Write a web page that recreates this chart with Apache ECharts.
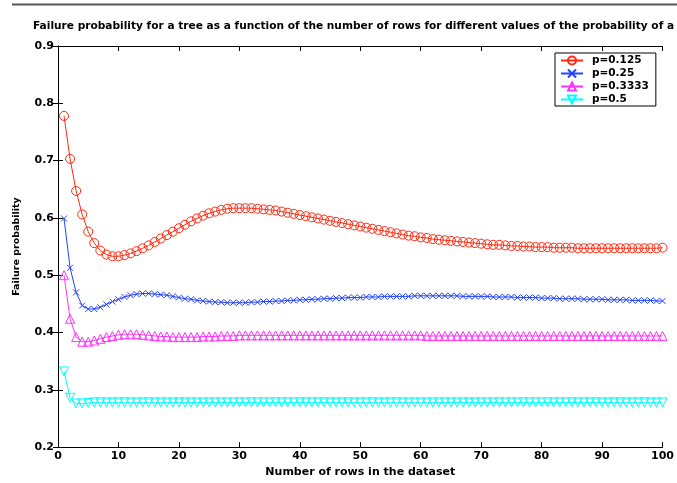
<!DOCTYPE html>
<html>
<head>
<meta charset="utf-8">
<script src="https://cdn.jsdelivr.net/npm/echarts@6/dist/echarts.min.js"></script>
<style>html,body{margin:0;padding:0;background:#fff;}#c{width:677px;height:483px;}</style>
</head>
<body>
<div id="c"></div>
<script>
const rows = [];
for (let i = 1; i <= 100; i++) rows.push(i);

const seriesNames = ['p=0.125', 'p=0.25', 'p=0.3333', 'p=0.5'];

const p125 = [0.778,0.703,0.647,0.606,0.576,0.556,0.543,0.536,0.533,0.533,
0.535,0.538,0.542,0.547,0.552,0.558,0.564,0.570,0.576,0.582,
0.588,0.594,0.599,0.604,0.608,0.611,0.614,0.616,0.617,0.617,
0.617,0.617,0.616,0.615,0.614,0.613,0.611,0.609,0.607,0.605,
0.603,0.601,0.599,0.597,0.595,0.593,0.591,0.589,0.587,0.585,
0.583,0.581,0.579,0.577,0.575,0.573,0.571,0.569,0.568,0.566,
0.565,0.563,0.562,0.561,0.560,0.559,0.558,0.557,0.556,0.555,
0.554,0.553,0.553,0.552,0.551,0.551,0.550,0.550,0.549,0.549,
0.549,0.548,0.548,0.548,0.548,0.547,0.547,0.547,0.547,0.547,
0.547,0.547,0.547,0.547,0.547,0.547,0.547,0.547,0.547,0.548];

const p25 = [0.599,0.513,0.470,0.447,0.441,0.441,0.444,0.449,0.454,0.458,
0.462,0.465,0.467,0.468,0.468,0.467,0.466,0.465,0.463,0.461,
0.459,0.458,0.456,0.455,0.454,0.453,0.453,0.452,0.452,0.452,
0.452,0.453,0.453,0.454,0.454,0.455,0.455,0.456,0.456,0.457,
0.457,0.458,0.458,0.459,0.459,0.460,0.460,0.461,0.461,0.461,
0.462,0.462,0.462,0.463,0.463,0.463,0.463,0.463,0.464,0.464,
0.464,0.464,0.464,0.464,0.464,0.464,0.463,0.463,0.463,0.463,
0.463,0.462,0.462,0.462,0.462,0.461,0.461,0.461,0.461,0.460,
0.460,0.460,0.459,0.459,0.459,0.459,0.458,0.458,0.458,0.458,
0.457,0.457,0.457,0.457,0.456,0.456,0.456,0.456,0.455,0.455];

const p3333 = [0.500,0.424,0.392,0.384,0.384,0.386,0.389,0.392,0.394,0.396,
0.397,0.397,0.397,0.396,0.395,0.394,0.393,0.393,0.392,0.392,
0.392,0.392,0.392,0.393,0.393,0.393,0.394,0.394,0.394,0.395,
0.395,0.395,0.395,0.395,0.395,0.395,0.395,0.395,0.395,0.395,
0.395,0.395,0.395,0.395,0.395,0.395,0.395,0.395,0.395,0.395,
0.395,0.395,0.395,0.395,0.395,0.395,0.395,0.395,0.395,0.395,
0.394,0.394,0.394,0.394,0.394,0.394,0.394,0.394,0.394,0.394,
0.394,0.394,0.394,0.394,0.394,0.394,0.394,0.394,0.394,0.394,
0.394,0.394,0.394,0.394,0.394,0.394,0.394,0.394,0.394,0.394,
0.394,0.394,0.394,0.394,0.394,0.394,0.394,0.394,0.394,0.394];

const p5 = [0.332,0.286,0.276,0.276,0.277,0.278,0.278,0.278,0.278,0.278,
0.278,0.278,0.278,0.278,0.278,0.278,0.278,0.278,0.278,0.278,
0.278,0.278,0.278,0.278,0.278,0.278,0.278,0.278,0.278,0.278,
0.278,0.278,0.278,0.278,0.278,0.278,0.278,0.278,0.278,0.278,
0.278,0.278,0.278,0.278,0.278,0.278,0.278,0.278,0.278,0.278,
0.278,0.278,0.278,0.278,0.278,0.278,0.278,0.278,0.278,0.278,
0.278,0.278,0.278,0.278,0.278,0.278,0.278,0.278,0.278,0.278,
0.278,0.278,0.278,0.278,0.278,0.278,0.278,0.278,0.278,0.278,
0.278,0.278,0.278,0.278,0.278,0.278,0.278,0.278,0.278,0.278,
0.278,0.278,0.278,0.278,0.278,0.278,0.278,0.278,0.278,0.278];

const xTicks = [0,10,20,30,40,50,60,70,80,90,100];
const yTicks = [0.2,0.3,0.4,0.5,0.6,0.7,0.8,0.9];

const FONT = '"DejaVu Sans", "Liberation Sans", Arial, sans-serif';
const colors = ['#ff2a10', '#2244ff', '#ff33ff', '#00ffff'];
const symbols = [
  'path://M50,0A50,50 0 1,1 49.99,0Z',
  'path://M0,0L100,100M100,0L0,100',
  'path://M50,0L100,100L0,100Z',
  'path://M0,0L100,0L50,100Z'
];
const sizes = [9, 6, 9, 9];
const datasets = [p125, p25, p3333, p5];

const series = datasets.map((vals, k) => ({
  name: seriesNames[k],
  type: 'line',
  xAxisIndex: 0,
  yAxisIndex: 0,
  data: vals.map((v, i) => [rows[i], v]),
  symbol: symbols[k],
  symbolSize: sizes[k],
  showAllSymbol: true,
  lineStyle: { color: colors[k], width: 1 },
  itemStyle: { color: 'rgba(0,0,0,0)', borderColor: colors[k], borderWidth: 1 },
  emphasis: { disabled: true },
  animation: false,
  z: 10 - k
}));

const axisCommonX = {
  type: 'value', min: 0, max: 100, interval: 10,
  axisLine: { show: true, lineStyle: { color: '#000', width: 1 } },
  axisTick: { show: true, inside: true, length: 5, lineStyle: { color: '#000' } },
  splitLine: { show: false }
};
const axisCommonY = {
  type: 'value', min: 0.2, max: 0.9, interval: 0.1,
  axisLine: { show: true, lineStyle: { color: '#000', width: 1 } },
  axisTick: { show: true, inside: true, length: 5, lineStyle: { color: '#000' } },
  splitLine: { show: false }
};

const chart = echarts.init(document.getElementById('c'), null, { renderer: 'canvas' });
chart.setOption({
  animation: false,
  backgroundColor: '#fff',
  title: {
    text: 'Failure probability for a tree as a function of the number of rows for different values of the probability of a 1',
    left: 33, top: 21,
    padding: 0,
    textStyle: { fontFamily: FONT, fontSize: 10.6, fontWeight: 'bold', color: '#000' }
  },
  graphic: [{
    type: 'line', shape: { x1: 12, y1: 4.5, x2: 677, y2: 4.5 },
    style: { stroke: '#555', lineWidth: 2 }
  }],
  grid: { left: 58, right: 14, top: 46, bottom: 33, containLabel: false },
  legend: {
    orient: 'vertical',
    left: 555, top: 53,
    padding: [2, 7, 1, 5],
    itemWidth: 22, itemHeight: 10, itemGap: 2,
    borderColor: '#000', borderWidth: 1,
    backgroundColor: '#fff',
    data: seriesNames,
    textStyle: { fontFamily: FONT, fontSize: 10.5, fontWeight: 'bold', color: '#000', lineHeight: 10, padding: [0,0,0,4] }
  },
  xAxis: [
    Object.assign({}, axisCommonX, {
      position: 'bottom',
      name: 'Number of rows in the dataset', nameLocation: 'middle', nameGap: 16,
      nameTextStyle: { fontFamily: FONT, fontSize: 11, fontWeight: 'bold', color: '#000' },
      axisLabel: { show: true, margin: 4, fontFamily: FONT, fontSize: 11, fontWeight: 'bold', color: '#000',
        formatter: v => (xTicks.indexOf(v) >= 0 ? String(v) : '') }
    }),
    Object.assign({}, axisCommonX, { position: 'top', axisLabel: { show: false } })
  ],
  yAxis: [
    Object.assign({}, axisCommonY, {
      position: 'left',
      name: 'Failure probability', nameLocation: 'middle', nameGap: 36,
      nameTextStyle: { fontFamily: FONT, fontSize: 9.5, fontWeight: 'bold', color: '#000' },
      axisLabel: { show: true, margin: 4, fontFamily: FONT, fontSize: 11, fontWeight: 'bold', color: '#000',
        formatter: v => { const t = yTicks.find(y => Math.abs(y - v) < 1e-6); return t !== undefined ? t.toFixed(1) : ''; } }
    }),
    Object.assign({}, axisCommonY, { position: 'right', axisLabel: { show: false } })
  ],
  series: series
});
</script>
</body>
</html>
